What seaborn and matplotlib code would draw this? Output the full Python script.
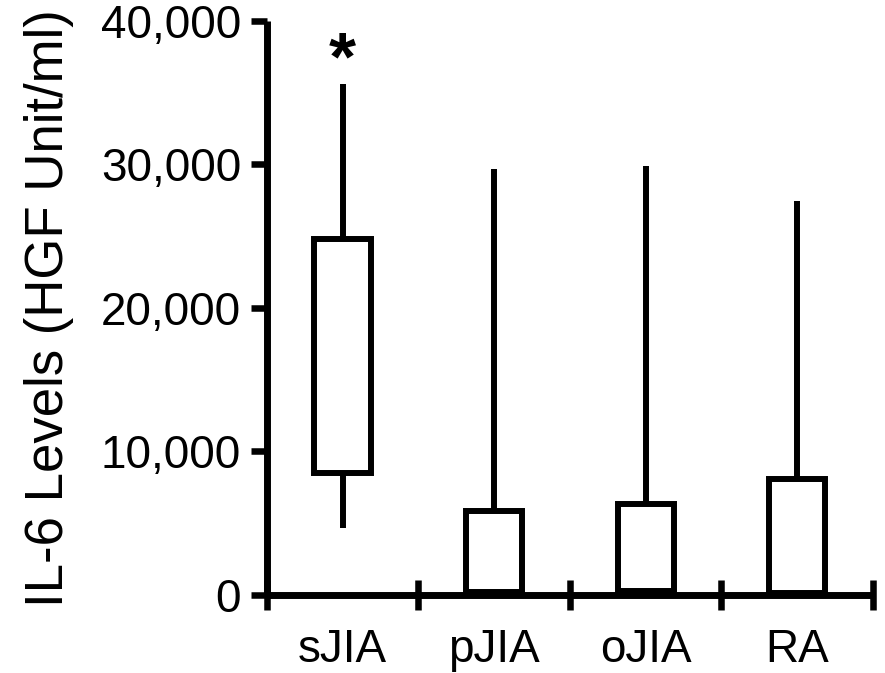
import matplotlib
matplotlib.use("Agg")
import matplotlib.pyplot as plt
from matplotlib.ticker import StrMethodFormatter
import pandas as pd
import seaborn as sns

# Group summaries of IL-6 levels (HGF Unit/ml)
groups = ["sJIA", "pJIA", "oJIA", "RA"]
whisker_low = [4700, 0, 0, 0]
box_low = [8500, 200, 300, 150]
box_high = [24800, 5850, 6350, 8100]
whisker_high = [35600, 29700, 29900, 27450]

y_ticks = [0, 10000, 20000, 30000, 40000]
y_label = "IL-6 Levels (HGF Unit/ml)"
significance = "*"

# Long-form table: each group's whisker ends and box edges
rows = []
for g, lo, q1, q3, hi in zip(groups, whisker_low, box_low, box_high, whisker_high):
    for v in (lo, q1, q1, q3, hi):
        rows.append({"group": g, "level": v})
df = pd.DataFrame(rows)

sns.set_style("ticks")
plt.rcParams["font.family"] = ["Liberation Sans", "DejaVu Sans"]

fig = plt.figure(figsize=(8.85, 6.73), dpi=100)
ax = fig.add_axes([0.3014, 0.1159, 0.685, 0.8533])

lw = 4.3
sns.boxplot(
    data=df, x="group", y="level", order=groups, ax=ax,
    color="white", linecolor="black", linewidth=lw, width=0.37,
    whis=(0, 100), showcaps=False, showfliers=False,
    whiskerprops={"solid_capstyle": "butt", "linewidth": lw},
    medianprops={"linewidth": 0},
    boxprops={"linewidth": lw},
)

ax.set_xlim(-0.5, len(groups) - 0.5)
ax.set_ylim(0, 40000)

# Tick marks sit between groups, labels sit under each box
ax.set_xticks([i - 0.5 for i in range(len(groups) + 1)])
ax.set_xticklabels([])
ax.set_xticks(range(len(groups)), labels=groups, minor=True)
ax.tick_params(axis="x", which="major", direction="inout", length=21,
               width=4.7, color="black")
ax.tick_params(axis="x", which="minor", length=0, labelsize=33, pad=24,
               labelcolor="black")

ax.set_yticks(y_ticks)
ax.yaxis.set_major_formatter(StrMethodFormatter("{x:,.0f}"))
ax.tick_params(axis="y", direction="out", length=11.5, width=4.7,
               labelsize=33, pad=7, color="black", labelcolor="black")

ax.set_xlabel("")
ax.set_ylabel(y_label, fontsize=38, color="black")
ax.yaxis.set_label_coords(-0.318, 0.5)

for side in ("top", "right"):
    ax.spines[side].set_visible(False)
for side in ("left", "bottom"):
    ax.spines[side].set_linewidth(5)
    ax.spines[side].set_color("black")
    ax.spines[side].set_capstyle("butt")

ax.text(0, whisker_high[0] + 300, significance, ha="center", va="baseline",
        fontsize=50, fontweight="bold", color="black")

fig.savefig("out.png", dpi=100, facecolor="white")
